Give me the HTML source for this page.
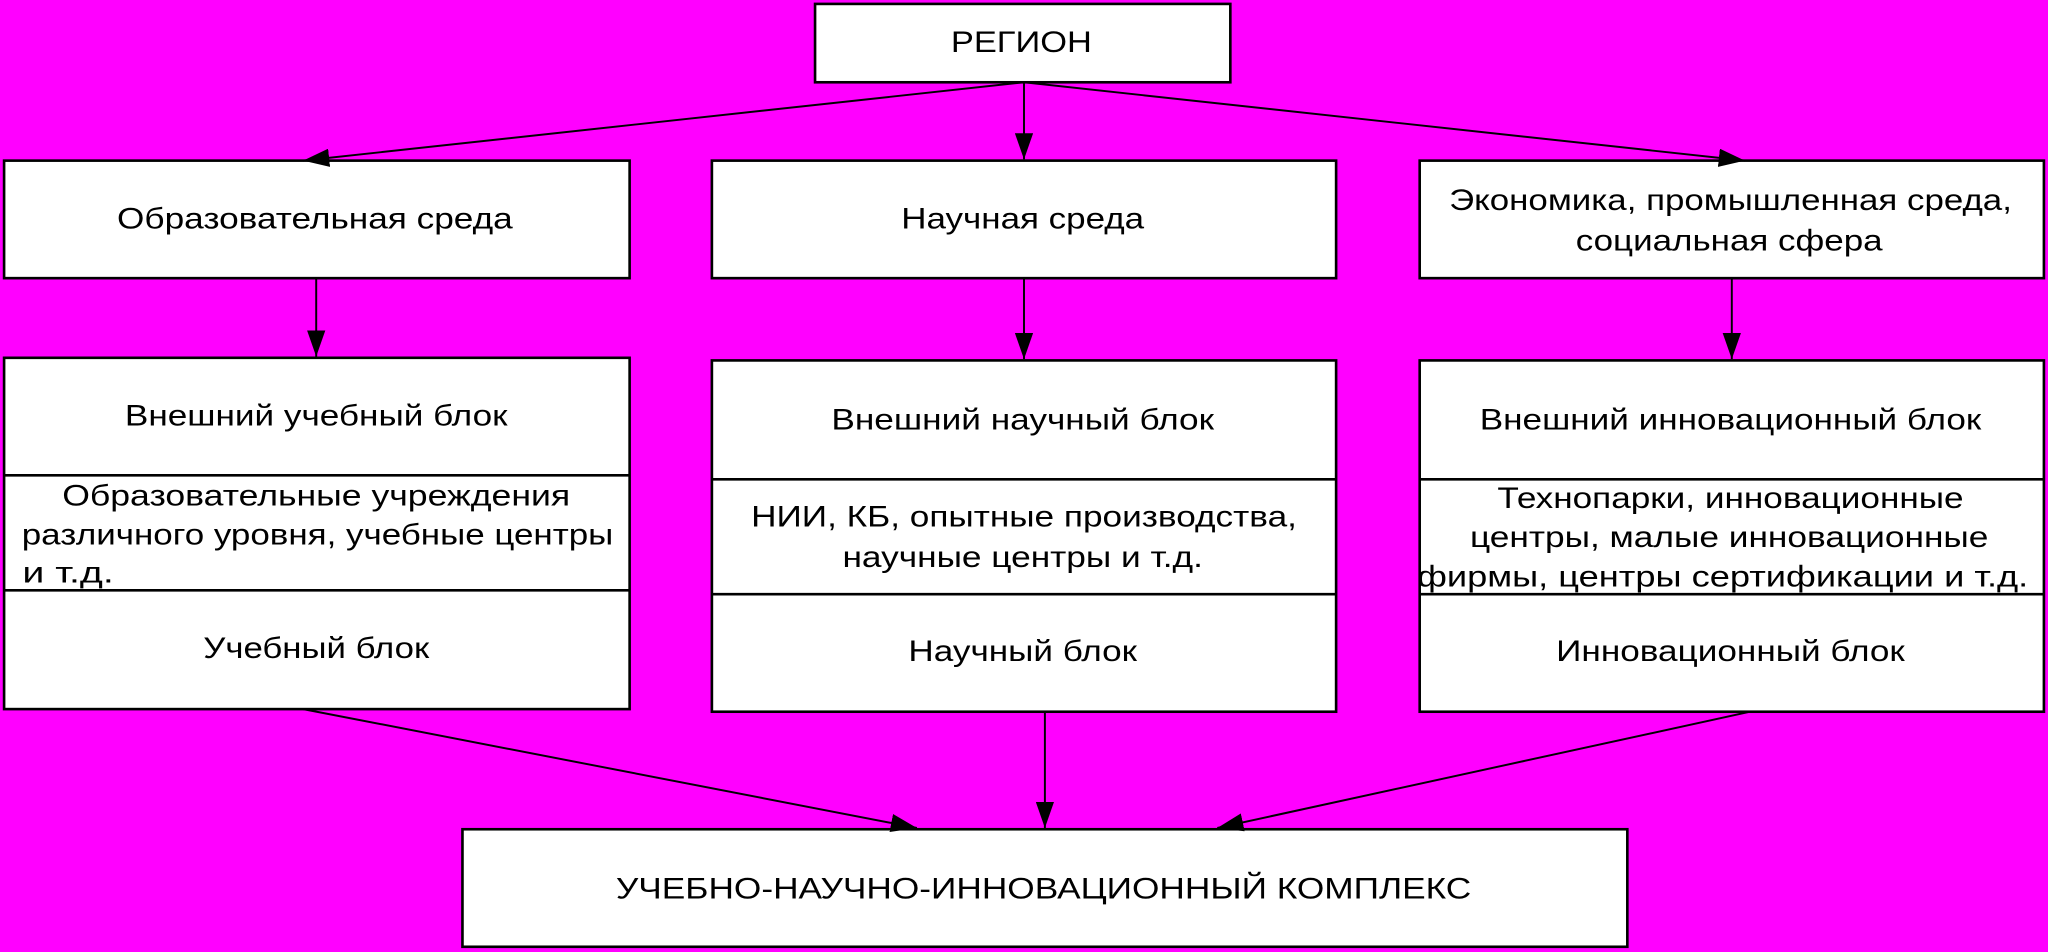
<!DOCTYPE html>
<html><head><meta charset="utf-8"><style>
html,body{margin:0;padding:0;background:#ff00ff;}
svg{display:block}
text{font-family:"Liberation Sans",sans-serif;font-size:23px;fill:#000;text-anchor:middle}
</style></head><body>
<svg width="2048" height="952" viewBox="0 0 1568 729" xmlns="http://www.w3.org/2000/svg">
<defs>
<marker id="b" markerWidth="20" markerHeight="14" refX="20" refY="7" orient="auto" markerUnits="userSpaceOnUse" viewBox="0 0 20 14"><path d="M0,0 L20,7 L0,14 z" fill="#000"/></marker></defs>
<rect x="0" y="0" width="1568" height="729" fill="#ff00ff"/>
<g fill="#fff" stroke="#000" stroke-width="2">
<rect x="624" y="3" width="318" height="60"/>
<rect x="3" y="123" width="479" height="90"/>
<rect x="545" y="123" width="478" height="90"/>
<rect x="1087" y="123" width="478" height="90"/>
<rect x="3" y="274" width="479" height="269"/>
<rect x="545" y="276" width="478" height="269"/>
<rect x="1087" y="276" width="478" height="269"/>
<rect x="354" y="635" width="892" height="90"/>
</g>
<g stroke="#000" stroke-width="2">
<line x1="3" y1="364" x2="482" y2="364"/><line x1="3" y1="452" x2="482" y2="452"/>
<line x1="545" y1="367" x2="1023" y2="367"/><line x1="545" y1="455" x2="1023" y2="455"/>
<line x1="1087" y1="367" x2="1565" y2="367"/><line x1="1087" y1="455" x2="1565" y2="455"/>
</g>
<g stroke="#000" stroke-width="1.5" fill="none" marker-end="url(#b)">
<line x1="784" y1="63" x2="232" y2="123"/>
<line x1="784" y1="63" x2="784" y2="122"/>
<line x1="784" y1="63" x2="1336" y2="123"/>
<line x1="242" y1="213" x2="242" y2="273"/>
<line x1="784" y1="213" x2="784" y2="275"/>
<line x1="1326" y1="213" x2="1326" y2="275"/>
<line x1="232" y1="543" x2="702" y2="634"/>
<line x1="800" y1="545" x2="800" y2="634"/>
<line x1="1340" y1="545" x2="932" y2="634"/>
</g>
<text x="782" y="40" textLength="108" lengthAdjust="spacingAndGlyphs">РЕГИОН</text>
<text x="241" y="175" textLength="303" lengthAdjust="spacingAndGlyphs">Образовательная среда</text>
<text x="783" y="175" textLength="186" lengthAdjust="spacingAndGlyphs">Научная среда</text>
<text x="1325" y="161" textLength="431" lengthAdjust="spacingAndGlyphs">Экономика, промышленная среда,</text>
<text x="1324" y="192" textLength="235" lengthAdjust="spacingAndGlyphs">социальная сфера</text>
<text x="242" y="326" textLength="293" lengthAdjust="spacingAndGlyphs">Внешний учебный блок</text>
<text x="242" y="387" textLength="389" lengthAdjust="spacingAndGlyphs">Образовательные учреждения</text>
<text x="243" y="417" textLength="453" lengthAdjust="spacingAndGlyphs">различного уровня, учебные центры</text>
<text x="52" y="446" textLength="70" lengthAdjust="spacingAndGlyphs">и т.д.</text>
<text x="242" y="504" textLength="173" lengthAdjust="spacingAndGlyphs">Учебный блок</text>
<text x="783" y="329" textLength="293" lengthAdjust="spacingAndGlyphs">Внешний научный блок</text>
<text x="784" y="403" textLength="418" lengthAdjust="spacingAndGlyphs">НИИ, КБ, опытные производства,</text>
<text x="783" y="434" textLength="276" lengthAdjust="spacingAndGlyphs">научные центры и т.д.</text>
<text x="783" y="506" textLength="175" lengthAdjust="spacingAndGlyphs">Научный блок</text>
<text x="1325" y="329" textLength="384" lengthAdjust="spacingAndGlyphs">Внешний инновационный блок</text>
<text x="1325" y="389" textLength="357" lengthAdjust="spacingAndGlyphs">Технопарки, инновационные</text>
<text x="1324" y="419" textLength="397" lengthAdjust="spacingAndGlyphs">центры, малые инновационные</text>
<text x="1319" y="449" textLength="468" lengthAdjust="spacingAndGlyphs">фирмы, центры сертификации и т.д.</text>
<text x="1325" y="506" textLength="267" lengthAdjust="spacingAndGlyphs">Инновационный блок</text>
<text x="799" y="688" textLength="655" lengthAdjust="spacingAndGlyphs">УЧЕБНО-НАУЧНО-ИННОВАЦИОННЫЙ КОМПЛЕКС</text>
</svg>
</body></html>
